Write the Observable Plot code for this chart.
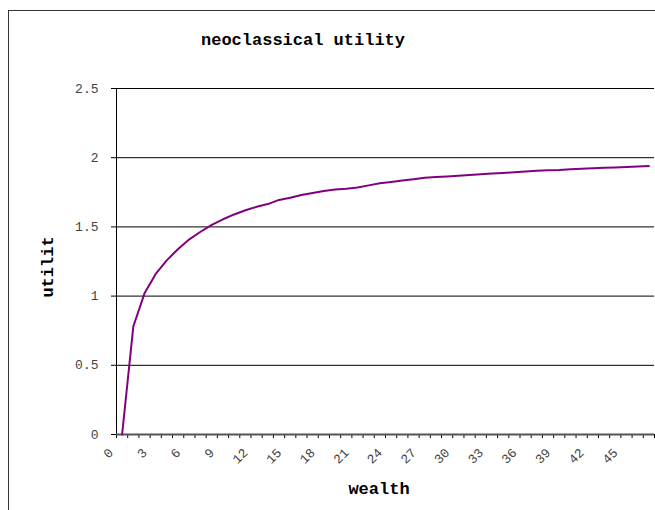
<!DOCTYPE html>
<html>
<head>
<meta charset="utf-8">
<script src="https://cdn.jsdelivr.net/npm/d3@7"></script>
<script src="https://cdn.jsdelivr.net/npm/@observablehq/plot@0.6"></script>
<style>
  html, body { margin: 0; padding: 0; background: #fff; overflow: hidden; }
  #wrap { position: relative; width: 655px; height: 510px; overflow: hidden; }
  #border { position: absolute; left: 8px; top: 10px; width: 800px; height: 800px; border: 1px solid #333; box-sizing: border-box; }
  .lbl { position: absolute; font-family: "Liberation Mono", "DejaVu Sans Mono", monospace; font-weight: bold; font-size: 17px; color: #000; white-space: nowrap; }
  #plot { position: absolute; left: 0; top: 0; }
</style>
</head>
<body>
<div id="wrap">
  <div id="border"></div>
  <div id="plot"></div>
  <div class="lbl" id="title" style="left:303px; top:40px; transform: translate(-50%, -50%);">neoclassical utility</div>
  <div class="lbl" id="xlabel" style="left:379px; top:489px; transform: translate(-50%, -50%);">wealth</div>
  <div class="lbl" id="ylabel" style="left:48px; top:267px; transform: translate(-50%, -50%) rotate(-90deg);">utilit</div>
</div>
<script>
// wealth categories (0..47) and utility values
const wealth = d3.range(0, 48);
const utility = [
  0, 0.78, 1.02, 1.16, 1.26, 1.34, 1.41, 1.465, 1.515, 1.555,
  1.59, 1.62, 1.645, 1.665, 1.695, 1.71, 1.73, 1.745, 1.76, 1.77,
  1.775, 1.785, 1.80, 1.815, 1.825, 1.835, 1.845, 1.855, 1.86, 1.865,
  1.87, 1.875, 1.88, 1.885, 1.89, 1.895, 1.90, 1.905, 1.91, 1.912,
  1.917, 1.92, 1.923, 1.927, 1.93, 1.933, 1.937, 1.94
];
const yTicks = [0, 0.5, 1, 1.5, 2, 2.5];
const xTickLabels = d3.range(0, 46, 3);           // 0,3,...,45
const xBoundaries = d3.range(-0.5, 48, 1);         // category boundaries

const data = wealth.map((w, i) => ({w, u: utility[i]}));

const chart = Plot.plot({
  width: 655,
  height: 510,
  marginLeft: 116,
  marginRight: 1,
  marginTop: 88,
  marginBottom: 76,
  style: {fontFamily: "'Liberation Mono', monospace", fontSize: "13px", color: "#444", background: "transparent"},
  x: {type: "linear", domain: [-0.5, 47.5]},
  y: {domain: [0, 2.5]},
  marks: [
    Plot.ruleY(yTicks, {stroke: "#000", strokeWidth: 1}),
    Plot.axisY({ticks: yTicks, tickSize: 5, tickPadding: 13, tickFormat: d => String(d), label: null, stroke: "#000", fill: "#444"}),
    Plot.axisX({ticks: xBoundaries, tickSize: 4, tickFormat: () => "", label: null, stroke: "#000"}),
    Plot.axisX({ticks: xTickLabels, tickSize: 0, tickRotate: -45, tickPadding: 8, dx: -11, dy: 8, tickFormat: d => String(d), label: null, fill: "#444"}),
    Plot.ruleX([-0.5], {stroke: "#000"}),
    Plot.ruleY([0], {stroke: "#555", strokeWidth: 2}),
    Plot.line(data, {x: "w", y: "u", stroke: "#800080", strokeWidth: 2})
  ]
});
document.getElementById("plot").appendChild(chart);
</script>
</body>
</html>
